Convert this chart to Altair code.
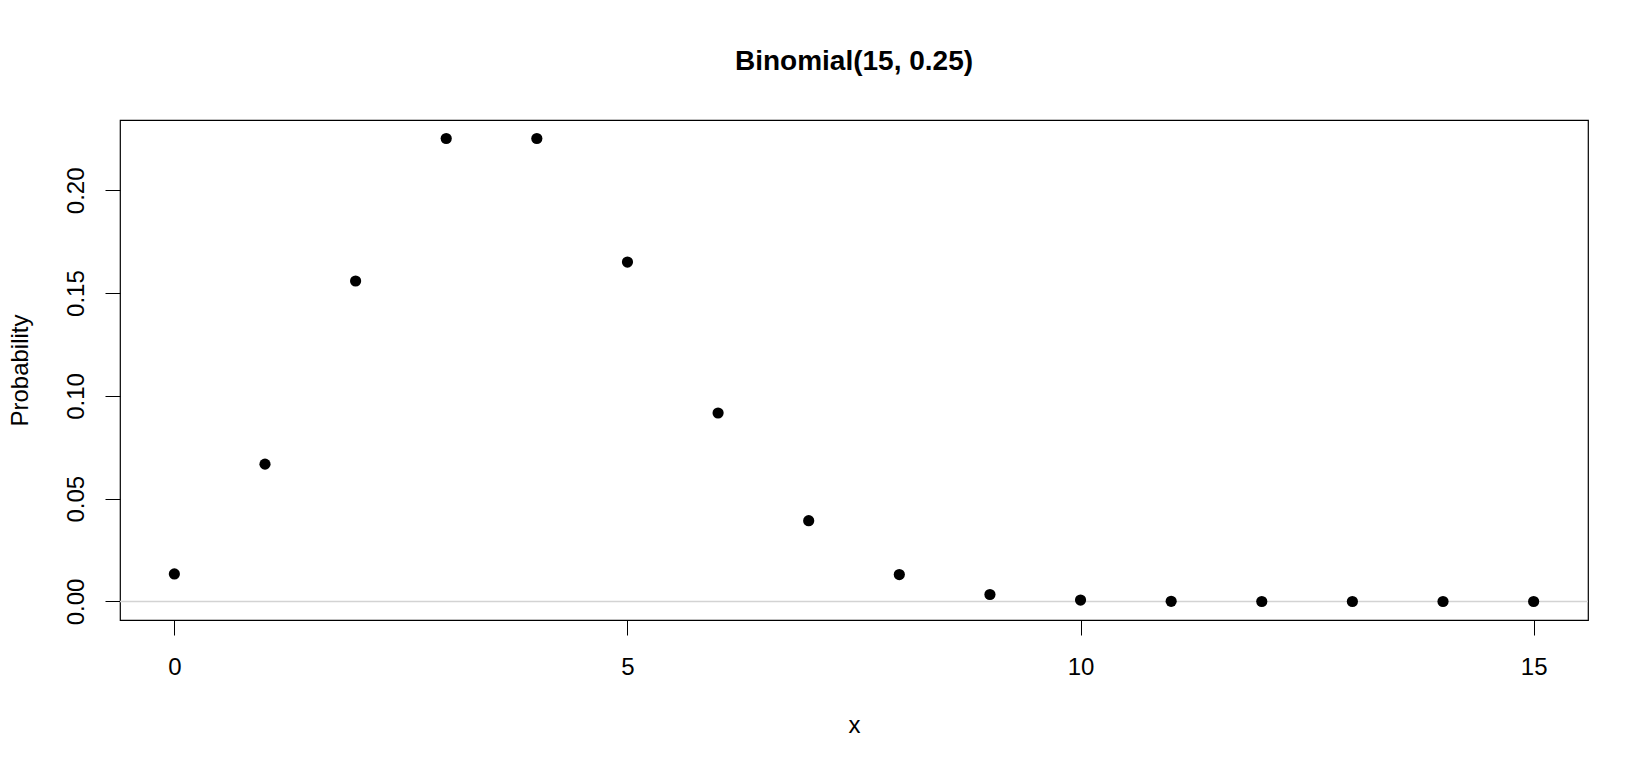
import altair as alt
import pandas as pd

x_vals = list(range(16))
probs = [0.0134, 0.0668, 0.1559, 0.2252, 0.2252, 0.1651, 0.0917, 0.0393,
         0.0131, 0.0034, 0.0007, 0.0001, 0.00001, 0.0, 0.0, 0.0]
x_ticks = [0, 5, 10, 15]
y_ticks = [0.00, 0.05, 0.10, 0.15, 0.20]

df = pd.DataFrame({"x": x_vals, "p": probs})
zero_df = pd.DataFrame({"h": [0.0]})

FONT = "Liberation Sans"

xscale = alt.Scale(domain=[-0.6, 15.6], nice=False, zero=False)
yscale = alt.Scale(domain=[-0.009, 0.2342], nice=False, zero=False)

xaxis = alt.Axis(values=x_ticks, title="x", grid=False, domain=False,
                 tickSize=15, tickColor="black", labelColor="black",
                 labelFont=FONT, labelFontSize=24, labelPadding=20,
                 titleFont=FONT, titleFontSize=24, titleFontWeight="normal",
                 titleColor="black", titleY=112, titleBaseline="alphabetic",
                 labelFlush=False, labelOverlap=False)
yaxis = alt.Axis(values=y_ticks, title="Probability", grid=False, domain=False,
                 format=".2f", tickSize=15, tickColor="black", labelColor="black",
                 labelFont=FONT, labelFontSize=24, labelPadding=17,
                 labelAngle=-90, labelAlign="center", labelBaseline="bottom",
                 titleFont=FONT, titleFontSize=24, titleFontWeight="normal",
                 titleColor="black", titleX=-93, titleY=250, titleAngle=-90,
                 titleAlign="center", titleBaseline="alphabetic",
                 labelFlush=False, labelOverlap=False)

rule = alt.Chart(zero_df).mark_rule(color="#D3D3D3", strokeWidth=1.5).encode(
    y=alt.Y("h:Q", scale=yscale, axis=yaxis)
)

points = alt.Chart(df).mark_circle(size=125, color="black", opacity=1).encode(
    x=alt.X("x:Q", scale=xscale, axis=xaxis),
    y=alt.Y("p:Q", scale=yscale, axis=yaxis),
)

chart = (rule + points).properties(
    width=1468,
    height=500,
    background="white",
    title=alt.TitleParams(text="Binomial(15, 0.25)", font=FONT, fontSize=28,
                          fontWeight="bold", color="black", anchor="middle",
                          baseline="alphabetic", offset=22),
    autosize=alt.AutoSizeParams(type="none"),
    padding={"left": 112, "top": 112, "right": 50, "bottom": 134},
).configure_view(stroke="black", strokeWidth=1.2)

chart.save("out.html", embed_options={"renderer": "svg", "actions": False})
